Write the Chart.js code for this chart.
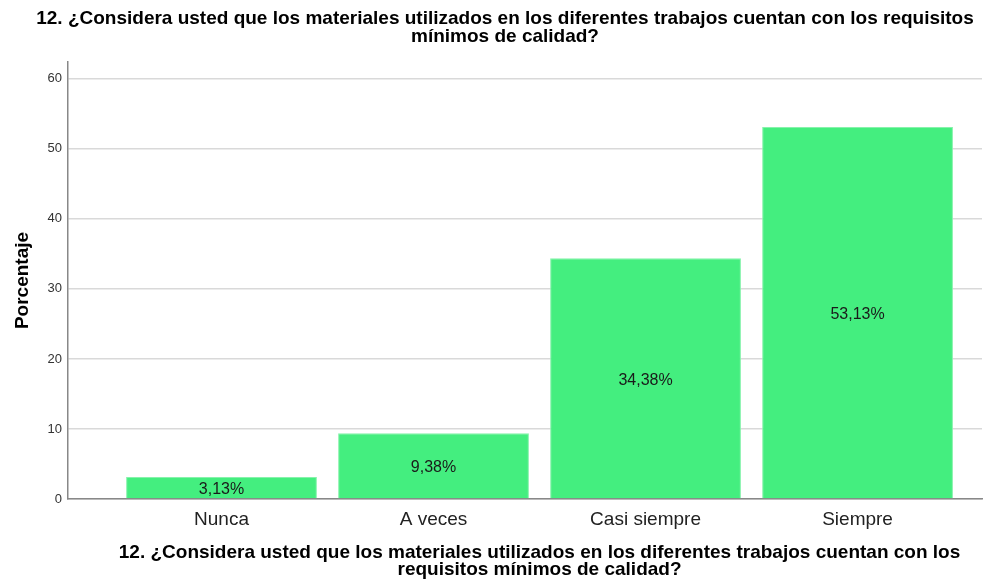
<!DOCTYPE html>
<html>
<head>
<meta charset="utf-8">
<script src="https://cdn.jsdelivr.net/npm/chart.js@4"></script>
<style>
  html, body { margin: 0; padding: 0; background: #fff; }
  #wrap { width: 998px; height: 585px; }
</style>
</head>
<body>
<div id="wrap"><canvas id="myChart" width="998" height="585"></canvas></div>
<script>
const categories = ["Nunca", "A veces", "Casi siempre", "Siempre"];
const values = [3.13, 9.38, 34.38, 53.13];
const valueLabels = ["3,13%", "9,38%", "34,38%", "53,13%"];
const yTicks = [0, 10, 20, 30, 40, 50, 60];

const titleLines = [
  "12. ¿Considera usted que los materiales utilizados en los diferentes trabajos cuentan con los requisitos",
  "mínimos de calidad?",
];
const xTitleLines = [
  "12. ¿Considera usted que los materiales utilizados en los diferentes trabajos cuentan con los",
  "requisitos mínimos de calidad?",
];

const FONT = "Arial, 'Liberation Sans', sans-serif";

// percent labels in the middle of each bar
const barLabels = {
  id: "barLabels",
  afterDatasetsDraw(chart) {
    const ctx = chart.ctx;
    const meta = chart.getDatasetMeta(0);
    ctx.save();
    ctx.font = "16px " + FONT;
    ctx.fillStyle = "#1a1a1a";
    ctx.textAlign = "center";
    ctx.textBaseline = "middle";
    meta.data.forEach((bar, i) => {
      ctx.fillText(valueLabels[i], bar.x, (bar.y + bar.base) / 2 + 2);
    });
    ctx.restore();
  },
};

// chart title on top, axis title under the bars (SPSS centres it on the bars)
const titles = {
  id: "titles",
  afterDraw(chart) {
    const ctx = chart.ctx;
    const x = chart.scales.x;
    ctx.save();
    ctx.font = "bold 19px " + FONT;
    ctx.fillStyle = "#000";
    ctx.textAlign = "center";
    ctx.textBaseline = "middle";
    titleLines.forEach((t, i) => ctx.fillText(t, 505, 19 + i * 18));
    const cx = (x.getPixelForValue(-0.5) + x.getPixelForValue(3.5)) / 2;
    xTitleLines.forEach((t, i) => ctx.fillText(t, cx, 553 + i * 17));
    ctx.restore();
  },
};

const ctx = document.getElementById("myChart").getContext("2d");

const myChart = new Chart(ctx, {
  type: "bar",
  data: {
    datasets: [
      {
        data: categories.map((c, i) => ({ x: i, y: values[i] })),
        backgroundColor: "#44ee7f",
        borderColor: "#86f3ab",
        borderWidth: 1,
        categoryPercentage: 1,
        barPercentage: 0.9,
      },
    ],
  },
  options: {
    responsive: false,
    animation: false,
    layout: { padding: { left: 0, right: 16, top: 62, bottom: 0 } },
    plugins: {
      legend: { display: false },
      tooltip: { enabled: false },
      title: { display: false },
    },
    scales: {
      x: {
        type: "linear",
        offset: false,
        min: -0.724,
        max: 3.587,
        afterBuildTicks: (scale) => {
          scale.ticks = categories.map((c, i) => ({ value: i }));
        },
        afterFit: (scale) => {
          scale.height = 86;
        },
        ticks: {
          callback: (v) => categories[v],
          color: "#222",
          font: { family: FONT, size: 19 },
          padding: 9,
          maxRotation: 0,
          autoSkip: false,
        },
        grid: { display: false, drawTicks: false, offset: false },
        border: { color: "#888", width: 1.5 },
      },
      y: {
        min: 0,
        max: 62.4,
        afterBuildTicks: (scale) => {
          scale.ticks = yTicks.map((v) => ({ value: v }));
        },
        afterFit: (scale) => {
          scale.width = 68;
        },
        ticks: {
          color: "#333",
          font: { family: FONT, size: 13 },
          padding: 6,
        },
        grid: { color: "#d9d9d9", lineWidth: 1.5, drawTicks: false },
        border: { color: "#888", width: 1.5 },
        title: {
          display: true,
          text: "Porcentaje",
          color: "#000",
          font: { family: FONT, size: 19, weight: "bold" },
          padding: { top: 11, bottom: 4 },
        },
      },
    },
  },
  plugins: [barLabels, titles],
});
</script>
</body>
</html>
